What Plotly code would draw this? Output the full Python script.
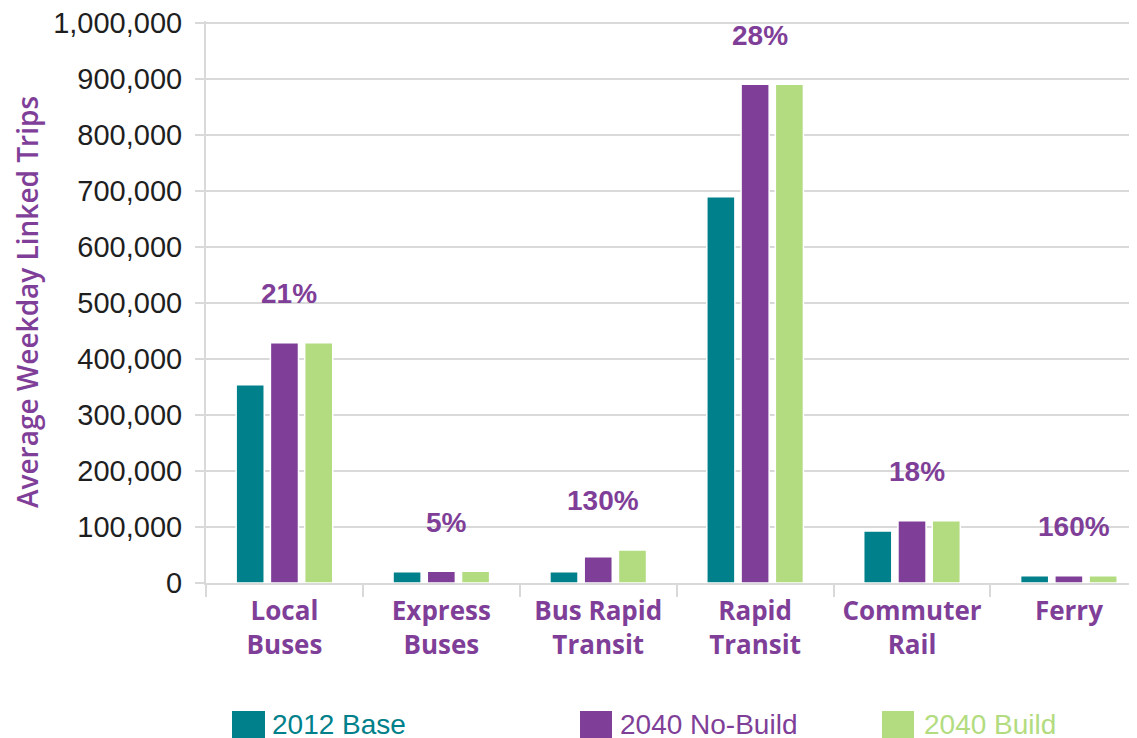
import plotly.graph_objects as go

# ---- data ----
categories = ["Local<br>Buses", "Express<br>Buses", "Bus Rapid<br>Transit",
              "Rapid<br>Transit", "Commuter<br>Rail", "Ferry"]
base_2012 = [354000, 20000, 20000, 690000, 93000, 13000]
nobuild_2040 = [429000, 21000, 47000, 891000, 111000, 13000]
build_2040 = [429000, 21000, 59000, 891000, 111000, 13000]
pct_labels = ["21%", "5%", "130%", "28%", "18%", "160%"]
series_names = ["2012 Base", "2040 No-Build", "2040 Build"]
y_ticks = list(range(0, 1000001, 100000))
y_tick_labels = [f"{v:,}" for v in y_ticks]

# ---- styles ----
TEAL = "#00808A"
PURPLE = "#7F3F98"
GREEN = "#B3DC80"
GRID = "#D9D9D9"
colors = [TEAL, PURPLE, GREEN]
series = [base_2012, nobuild_2040, build_2040]

fig = go.Figure()
for name, vals, col in zip(series_names, series, colors):
    fig.add_trace(go.Bar(
        x=categories, y=vals, name=name,
        marker=dict(color=col, line=dict(color="white", width=1.5)),
        showlegend=False,
    ))

# percentage labels above each group
for i, cat in enumerate(categories):
    top = max(s[i] for s in series)
    fig.add_annotation(
        x=cat, y=top, xref="x", yref="y",
        text=pct_labels[i], showarrow=False,
        yanchor="middle", yshift=49, xshift=5,
        font=dict(family="Liberation Sans, Arial, sans-serif", size=28,
                  color=PURPLE, weight="bold"),
    )

# plot-area geometry (page pixels; page has an 8px body margin)
PLOT_LEFT, PLOT_TOP, PLOT_W, PLOT_H = 206, 21, 931.0, 562.0
def px_x(p):
    return (p - PLOT_LEFT) / PLOT_W
def px_y(p):
    return (PLOT_TOP + PLOT_H - p) / PLOT_H

# manual legend (large square swatches with coloured text)
legend_pos = [(232, 265, 270), (580, 612, 618), (882, 914, 922)]
for (x0, x1, tx), name, col in zip(legend_pos, series_names, colors):
    fig.add_shape(type="rect", xref="paper", yref="paper",
                  x0=px_x(x0), x1=px_x(x1), y0=px_y(746), y1=px_y(711),
                  fillcolor=col, line=dict(width=0))
    fig.add_annotation(x=px_x(tx), y=px_y(724), xref="paper", yref="paper",
                       text=name, showarrow=False, xanchor="left", yanchor="middle",
                       font=dict(family="Liberation Sans, Arial, sans-serif",
                                 size=28, color=col))

fig.update_layout(
    width=1137, height=738,
    margin=dict(l=198, r=8, t=13, b=163),
    paper_bgcolor="white", plot_bgcolor="white",
    barmode="group", bargap=0.345, bargroupgap=0.18,
    showlegend=False,
    xaxis=dict(
        type="category", range=[-0.5, 5.434], automargin=False,
        showline=True, linecolor=GRID, linewidth=2,
        ticks="outside", tickson="boundaries", ticklen=12, tickwidth=2, tickcolor=GRID,
        showgrid=False, ticklabelstandoff=4,
        tickfont=dict(family="Open Sans, DejaVu Sans, sans-serif", size=26,
                      color=PURPLE, weight="bold"),
    ),
    yaxis=dict(
        range=[0, 1004000], tickvals=y_ticks, ticktext=y_tick_labels,
        automargin=False,
        showline=True, linecolor=GRID, linewidth=2,
        ticks="outside", ticklen=9, tickwidth=2, tickcolor=GRID,
        showgrid=True, gridcolor=GRID, gridwidth=2, zeroline=False,
        ticklabelstandoff=7, ticklabeloverflow="allow",
        tickfont=dict(family="Liberation Sans, Arial, sans-serif", size=29,
                      color="#1E1E1E"),
        title=dict(text="Average Weekday Linked Trips", standoff=9,
                   font=dict(family="Open Sans, DejaVu Sans, sans-serif", size=28,
                             color=PURPLE, weight=600)),
    ),
)

fig.write_html("out.html")
